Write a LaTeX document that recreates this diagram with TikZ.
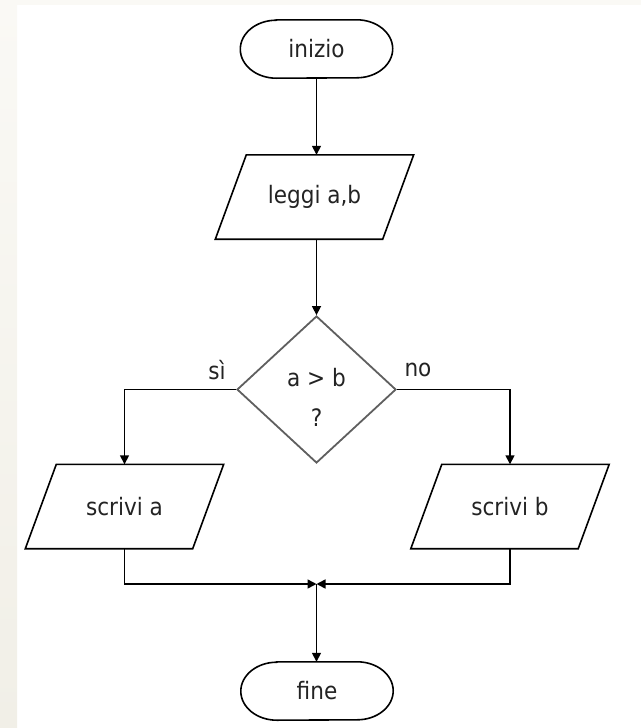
\documentclass[tikz,border=0pt]{standalone}
\usepackage{fontspec}
\setmainfont{DejaVu Sans Condensed}
\usetikzlibrary{shapes.geometric,arrows.meta}
\definecolor{stripc}{RGB}{241,239,231}
\definecolor{stript}{RGB}{250,249,245}
\definecolor{decgray}{RGB}{95,95,95}
\definecolor{txt}{RGB}{35,35,35}
\tikzset{
  lbl/.style={font=\fontsize{24}{28}\selectfont, text=txt},
  term/.style={rectangle, minimum width=152pt, minimum height=58pt, inner sep=0pt, lbl},
  io/.style={rectangle, minimum width=167pt, minimum height=84pt, inner sep=0pt, lbl},
  shapeline/.style={draw=black, line width=1.6pt, line join=miter},
  decision/.style={draw=decgray, line width=1.8pt, diamond,
    minimum width=159pt, minimum height=147pt, inner sep=0pt},
  conn/.style={draw=black, line width=1.5pt},
  arr/.style={conn, -{Triangle[length=9pt,width=9pt]}},
}
\newcommand\paraoutline[1]{%
  \draw[shapeline] ([xshift=15.5pt]#1.north west) -- ([xshift=15.5pt]#1.north east)
    -- ([xshift=-15.5pt]#1.south east) -- ([xshift=-15.5pt]#1.south west) -- cycle;}
\newcommand\termoutline[1]{%
  \draw[shapeline] ([xshift=36pt]#1.north west) -- ([xshift=-36pt]#1.north east)
    arc[start angle=90, end angle=-90, x radius=36pt, y radius=29pt]
    -- ([xshift=36pt]#1.south west)
    arc[start angle=270, end angle=90, x radius=36pt, y radius=29pt] -- cycle;}
\begin{document}
\begin{tikzpicture}[x=1pt,y=-1pt]
\useasboundingbox (0,0) rectangle (641,728);
\fill[stript] (0,0) rectangle (641,5);
\shade[top color=stript, bottom color=stripc] (0,0) rectangle (17,728);

\node[term] (start) at (316.5,49) {inizio};
\termoutline{start}
\node[io] (read) at (314.5,197) {leggi a,b};
\paraoutline{read}
\node[decision] (dec) at (316.5,389.5) {};
\node[lbl] (q1) at (316.5,378) {a > b};
\node[lbl] (q2) at (316.5,418) {?};
\node[io] (outa) at (124.5,506.5) {scrivi a};
\paraoutline{outa}
\node[io] (outb) at (510,506.5) {scrivi b};
\paraoutline{outb}
\coordinate (join) at (316.5,584);
\node[term] (end) at (317,691) {fine};
\termoutline{end}

\node[lbl] (si) at (217,370) {sì};
\node[lbl] (no) at (418,370) {no};

\draw[arr] (start.south) -- (start.south |- read.north);
\draw[arr] (start.south |- read.south) -- (dec.north);
\draw[arr] (dec.west) -| (outa.north);
\draw[arr] (dec.east) -| (outb.north);
\draw[arr] (outa.south) |- (join);
\draw[arr] (outb.south) |- (join);
\draw[arr] (join) -- (join |- end.north);
\end{tikzpicture}
\end{document}
